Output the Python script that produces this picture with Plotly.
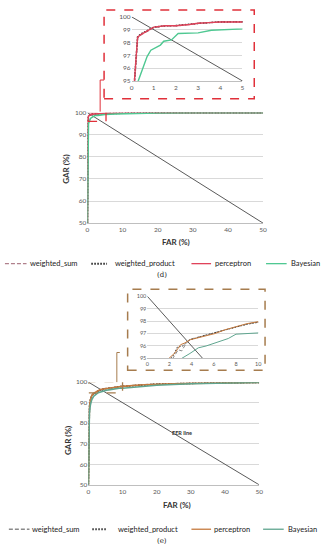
import plotly.graph_objects as go

W, H = 325, 550
def px(x): return x / W
def py(y): return 1 - y / H

# ---------------- data (d) ----------------
eer_far = [0, 50]
eer_gar = [100, 50]

d_perc_far = [0, 0, 0.13, 0.2, 0.27, 0.4, 0.65, 1.0, 1.5, 2.0, 2.6, 3.0, 3.5, 4.0, 5.0, 8, 12, 20, 30, 50]
d_perc_gar = [50, 90, 95, 97.2, 98.4, 98.6, 98.85, 99.2, 99.3, 99.3, 99.4, 99.5, 99.55, 99.6, 99.6, 99.7, 99.8, 99.9, 100, 100]
d_ws_far = [0, 0, 0.14, 0.21, 0.28, 0.42, 0.66, 1.0, 1.5, 2.0, 2.6, 3.0, 3.5, 4.0, 5.0, 8, 12, 20, 30, 50]
d_ws_gar = [50, 90, 95, 97.1, 98.35, 98.6, 98.85, 99.15, 99.3, 99.3, 99.4, 99.5, 99.55, 99.62, 99.62, 99.7, 99.8, 99.9, 100, 100]
d_wp_far = [0, 0, 0.13, 0.2, 0.27, 0.4, 0.65, 1.0, 1.5, 2.0, 2.6, 3.0, 3.5, 4.0, 5.0, 8, 12, 20, 30, 50]
d_wp_gar = [50, 90, 95, 97.25, 98.45, 98.65, 98.9, 99.2, 99.3, 99.32, 99.42, 99.5, 99.55, 99.6, 99.6, 99.7, 99.8, 99.9, 100, 100]
d_bay_far = [0, 0.15, 0.3, 0.5, 0.7, 0.87, 1.1, 1.3, 1.45, 1.8, 2.1, 3.0, 3.6, 4.5, 5.0, 8, 12, 20, 30, 50]
d_bay_gar = [50, 88, 95, 95.9, 96.9, 97.4, 97.6, 97.8, 98.1, 98.2, 98.7, 98.75, 98.95, 99.1, 99.15, 99.4, 99.6, 99.8, 99.95, 100]

# ---------------- data (e) ----------------
e_perc_far = [0, 0.1, 0.3, 0.6, 1.0, 1.5, 1.95, 2.5, 3.0, 3.4, 3.86, 4.3, 5.2, 6.1, 7.0, 8.1, 9.0, 10, 15, 20, 30, 40, 50]
e_perc_gar = [50, 80, 88, 91.5, 93.5, 94.5, 95, 95.45, 96.1, 96.25, 96.5, 96.6, 96.85, 97.0, 97.3, 97.55, 97.8, 97.95, 98.6, 99.0, 99.4, 99.7, 99.9]
e_ws_far = [0, 0.1, 0.3, 0.6, 1.0, 1.5, 2.3, 2.8, 3.1, 3.5, 3.9, 4.5, 5.5, 6.5, 7.5, 8.5, 9.5, 10, 15, 20, 30, 40, 50]
e_ws_gar = [50, 79, 87.5, 91, 93.2, 94.3, 95.0, 95.7, 95.6, 96.2, 96.55, 96.7, 96.95, 97.15, 97.4, 97.65, 97.85, 97.95, 98.6, 99.0, 99.4, 99.7, 99.9]
e_wp_far = [0, 0.1, 0.3, 0.6, 1.0, 1.5, 2.0, 2.4, 2.7, 3.2, 3.7, 4.2, 5.0, 6.0, 7.0, 8.0, 9.0, 10, 15, 20, 30, 40, 50]
e_wp_gar = [50, 80, 88, 91.5, 93.4, 94.4, 94.9, 95.3, 95.9, 96.0, 96.45, 96.6, 96.8, 97.05, 97.3, 97.5, 97.75, 97.9, 98.6, 99.0, 99.4, 99.7, 99.9]
e_bay_far = [0, 0.1, 0.3, 0.6, 1.0, 1.5, 2.0, 2.5, 3.1, 3.85, 4.6, 5.3, 6.4, 7.3, 8.0, 9.0, 10, 15, 20, 30, 40, 50]
e_bay_gar = [50, 76, 85, 89, 91.5, 93, 93.8, 94.4, 95.0, 95.4, 95.85, 96.0, 96.35, 96.6, 96.95, 97.0, 97.05, 97.9, 98.5, 99.2, 99.6, 99.85]

series_names = ["weighted_sum", "weighted_product", "perceptron", "Bayesian"]
main_ticks_x = [0, 10, 20, 30, 40, 50]
main_ticks_y = [50, 60, 70, 80, 90, 100]
inset_d_ticks_x = [0, 1, 2, 3, 4, 5]
inset_e_ticks_x = [0, 2, 4, 6, 8, 10]
inset_ticks_y = [95, 96, 97, 98, 99, 100]

FONT = "Lato"
TICK = "#595959"
GRID = "#d9d9d9"
EER = "#5a5a5a"

d_cols = {"weighted_sum": "#b0808c", "weighted_product": "#222222", "perceptron": "#e0435a", "Bayesian": "#4fc892"}
e_cols = {"weighted_sum": "#8a8a8a", "weighted_product": "#333333", "perceptron": "#c57a3e", "Bayesian": "#5fa58f"}
dashes = {"weighted_sum": "4px,2px", "weighted_product": "1.5px,1.5px", "perceptron": "solid", "Bayesian": "solid"}

d_data = {"weighted_sum": (d_ws_far, d_ws_gar), "weighted_product": (d_wp_far, d_wp_gar),
          "perceptron": (d_perc_far, d_perc_gar), "Bayesian": (d_bay_far, d_bay_gar)}
e_data = {"weighted_sum": (e_ws_far, e_ws_gar), "weighted_product": (e_wp_far, e_wp_gar),
          "perceptron": (e_perc_far, e_perc_gar), "Bayesian": (e_bay_far, e_bay_gar)}

fig = go.Figure()

def add_set(data, cols, xa, ya, width):
    fig.add_trace(go.Scatter(x=eer_far, y=eer_gar, mode="lines", line=dict(color=EER, width=1),
                             xaxis=xa, yaxis=ya, showlegend=False, hoverinfo="skip"))
    for n in series_names:
        fx, fy = data[n]
        fig.add_trace(go.Scatter(x=fx, y=fy, mode="lines", name=n,
                                 line=dict(color=cols[n], width=width, dash=dashes[n]),
                                 xaxis=xa, yaxis=ya, showlegend=False))

add_set(d_data, d_cols, "x", "y", 1.6)
add_set(d_data, d_cols, "x2", "y2", 1.4)
add_set(e_data, e_cols, "x3", "y3", 1.6)
add_set(e_data, e_cols, "x4", "y4", 1.0)

def xax(dom, rng, ticks, anchor, size):
    return dict(domain=dom, range=rng, tickvals=ticks, anchor=anchor, showgrid=False, zeroline=False,
                showline=True, linecolor="#bfbfbf", linewidth=1, ticks="",
                tickfont=dict(family=FONT, size=size, color=TICK), fixedrange=True)

def yax(dom, rng, ticks, anchor, size):
    return dict(domain=dom, range=rng, tickvals=ticks, anchor=anchor, showgrid=True, gridcolor=GRID,
                gridwidth=1, zeroline=False, showline=False, ticks="",
                tickfont=dict(family=FONT, size=size, color=TICK), fixedrange=True)

layout = dict(
    width=W, height=H, autosize=False, margin=dict(l=0, r=0, t=0, b=0),
    paper_bgcolor="white", plot_bgcolor="white", showlegend=False,
    xaxis=xax([px(87), px(266)], [0, 50], main_ticks_x, "y", 6.5),
    yaxis=yax([py(222), py(110)], [50, 100], main_ticks_y, "x", 6.5),
    xaxis2=xax([px(132), px(245)], [0, 5], inset_d_ticks_x, "y2", 6.5),
    yaxis2=yax([py(78), py(13)], [95, 100], inset_ticks_y, "x2", 6.5),
    xaxis3=xax([px(88), px(262)], [0, 50], main_ticks_x, "y3", 6.5),
    yaxis3=yax([py(487), py(383)], [50, 100], main_ticks_y, "x3", 6.5),
    xaxis4=xax([px(148), px(261)], [0, 10], inset_e_ticks_x, "y4", 5.5),
    yaxis4=yax([py(359), py(296)], [95, 100], inset_ticks_y, "x4", 5.5),
)
fig.update_layout(**layout)

shapes = []
RED = "#e0303a"
BROWN = "#a67c4e"
# inset frames
shapes.append(dict(type="rect", xref="paper", yref="paper", x0=px(104), x1=px(257), y0=py(96), y1=py(6),
                   line=dict(color=RED, width=1.5, dash="dash")))
shapes.append(dict(type="rect", xref="paper", yref="paper", x0=px(128), x1=px(268), y0=py(371), y1=py(289),
                   line=dict(color=BROWN, width=1.5, dash="dash")))
# zoom boxes in main plots
shapes.append(dict(type="rect", xref="x", yref="y", x0=0.2, x1=5.3, y0=96, y1=100.4,
                   line=dict(color=RED, width=1.3, dash="dash")))
shapes.append(dict(type="rect", xref="x3", yref="y3", x0=0.1, x1=10, y0=94.8, y1=100.2,
                   line=dict(color=BROWN, width=1.3, dash="dash")))
# connectors
shapes.append(dict(type="path", xref="paper", yref="paper",
                   path=f"M {px(104)} {py(77)} L {px(100)} {py(77)} L {px(100)} {py(109)}",
                   line=dict(color=RED, width=1)))
shapes.append(dict(type="path", xref="paper", yref="paper",
                   path=f"M {px(120)} {py(353)} L {px(117)} {py(353)} L {px(117)} {py(383)}",
                   line=dict(color=BROWN, width=1)))

# manual legends
leg_d = [("weighted_sum", 3, 25, 27), ("weighted_product", 91, 107, 114), ("perceptron", 193, 213, 216), ("Bayesian", 269, 290, 293)]
leg_e = [("weighted_sum", 7, 28, 30), ("weighted_product", 92, 107, 117), ("perceptron", 193, 213, 215), ("Bayesian", 266, 287, 290)]
annotations = []
for legs, cols, ly in [(leg_d, d_cols, 263), (leg_e, e_cols, 532)]:
    for n, x0, x1, tx in legs:
        shapes.append(dict(type="line", xref="paper", yref="paper", x0=px(x0), x1=px(x1), y0=py(ly), y1=py(ly),
                           line=dict(color=cols[n], width=2 if n == "weighted_product" else 1.3, dash=dashes[n])))
        annotations.append(dict(text=n, xref="paper", yref="paper", x=px(tx), y=py(ly), xanchor="left", yanchor="middle",
                                showarrow=False, borderpad=0, font=dict(family=FONT, size=7.5, color="#222")))

for t, x, y, rot in [("GAR (%)", 65, 167, -90), ("FAR (%)", 177, 241, 0), ("GAR (%)", 68, 442, -90), ("FAR (%)", 178, 507, 0)]:
    annotations.append(dict(text=f"<b>{t}</b>", xref="paper", yref="paper", x=px(x), y=py(y), showarrow=False,
                            textangle=rot, xanchor="center", yanchor="middle", font=dict(family=FONT, size=8, color="#333")))
annotations.append(dict(text="(d)", xref="paper", yref="paper", x=px(163), y=py(274), showarrow=False,
                        xanchor="center", yanchor="middle", font=dict(family="DejaVu Serif", size=7, color="#222")))
annotations.append(dict(text="(e)", xref="paper", yref="paper", x=px(163), y=py(544), showarrow=False,
                        xanchor="center", yanchor="middle", font=dict(family="DejaVu Serif", size=7, color="#222")))
annotations.append(dict(text="<b>EER line</b>", xref="x3", yref="y3", x=27.5, y=75, showarrow=False,
                        xanchor="center", yanchor="middle", font=dict(family=FONT, size=5.5, color="#333")))

fig.update_layout(shapes=shapes, annotations=annotations)
fig.write_html("out.html", config={"displayModeBar": False},
               post_script="document.body.style.margin='0';document.body.style.overflow='hidden';")
